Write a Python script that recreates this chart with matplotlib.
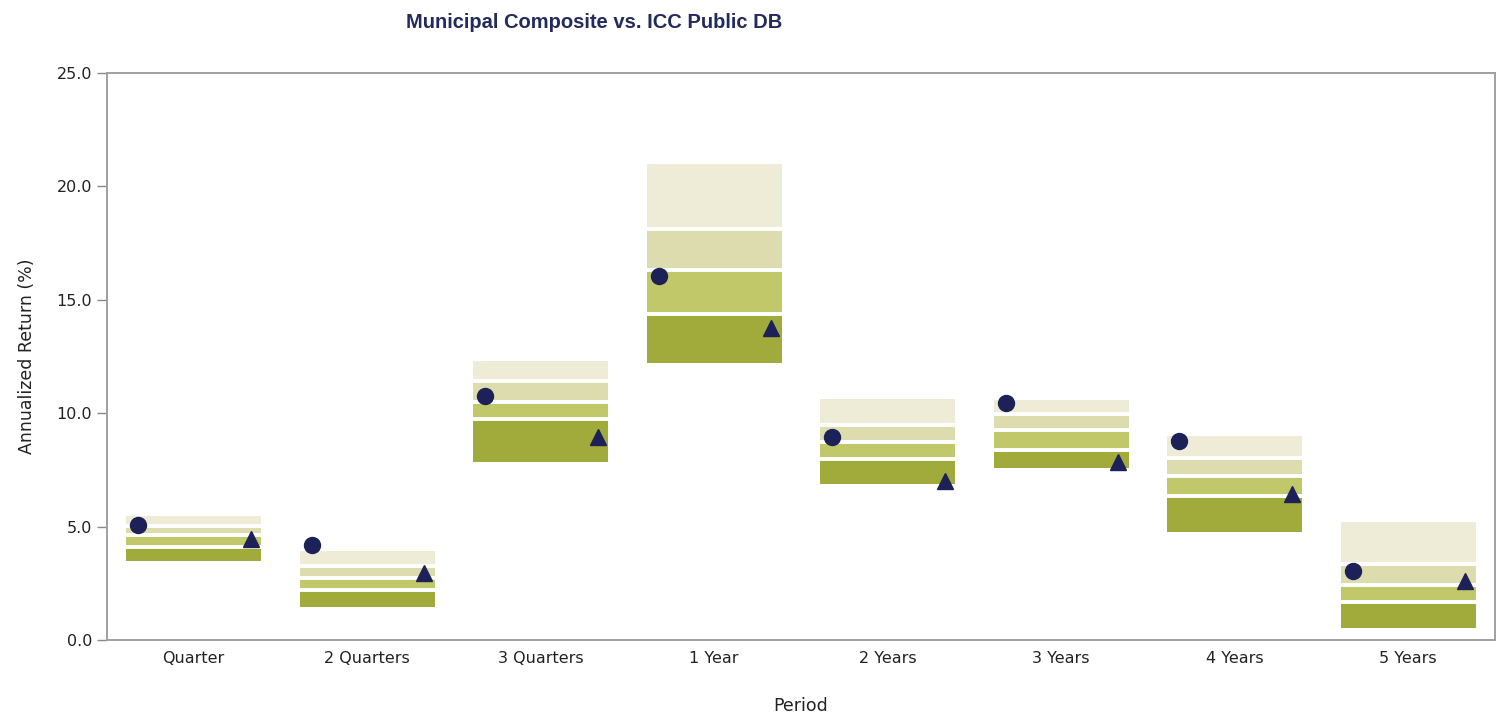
import matplotlib.pyplot as plt
from matplotlib import font_manager
import numpy as np

periods = ['Quarter', '2 Quarters', '3 Quarters', '1 Year',
           '2 Years', '3 Years', '4 Years', '5 Years']

# universe percentiles (5th, 25th, median, 75th, 95th)
p95 = [5.47, 3.92, 12.30, 20.99, 10.63, 10.58, 8.99, 5.20]
p75 = [5.03, 3.26, 11.40, 18.14, 9.46, 9.96, 8.02, 3.35]
p50 = [4.63, 2.73, 10.49, 16.31, 8.73, 9.26, 7.23, 2.43]
p25 = [4.10, 2.20, 9.74, 14.37, 7.96, 8.38, 6.37, 1.68]
p05 = [3.48, 1.46, 7.85, 12.21, 6.88, 7.58, 4.76, 0.53]

composite = [5.07, 4.19, 10.76, 16.05, 8.95, 10.45, 8.77, 3.04]
benchmark = [4.45, 2.95, 8.95, 13.76, 7.01, 7.85, 6.44, 2.60]

band_colors = ['#a1ab3b', '#c1c86a', '#dcdcae', '#eeecd6']
navy = '#1c2157'

# narrow font for the title if one is around
names = {f.name for f in font_manager.fontManager.ttflist}
title_font = 'Liberation Sans'
for cand in ['Liberation Sans Narrow', 'DejaVu Sans Condensed']:
    if cand in names:
        title_font = cand
        break

fig = plt.figure(figsize=(15.04, 7.13), dpi=100)
ax = fig.add_axes([0.0711, 0.1024, 0.9229, 0.7952])

x = np.arange(len(periods))
w = 0.78
lows = [p05, p25, p50, p75]
highs = [p25, p50, p75, p95]
for lo, hi, c in zip(lows, highs, band_colors):
    ax.bar(x, np.array(hi) - np.array(lo), bottom=lo, width=w,
           color=c, linewidth=0, zorder=2)

# white separators between bands
for level in [p25, p50, p75]:
    ax.hlines(level, x - w / 2, x + w / 2, colors='white',
              linewidth=2.8, zorder=3)

ax.plot(x - 0.32, composite, 'o', color=navy, markersize=11.5, zorder=4)
ax.plot(x + 0.33, benchmark, '^', color=navy, markersize=11, zorder=4)

ax.set_xlim(-0.5, len(periods) - 0.5)
ax.set_ylim(0, 25)
ax.set_yticks(np.arange(0, 25.1, 5))
ax.set_yticklabels(['%.1f' % v for v in np.arange(0, 25.1, 5)])
ax.set_xticks(x)
ax.set_xticklabels(periods)
ax.tick_params(axis='x', length=0, pad=8, labelsize=11.5, colors='#222222')
ax.tick_params(axis='y', length=7, width=1, color='#888888',
               labelsize=11.5, labelcolor='#222222')
for s in ax.spines.values():
    s.set_color('#a0a0a0')
    s.set_linewidth(1.4)

ax.set_ylabel('Annualized Return (%)', fontsize=12.5, color='#222222',
              labelpad=15)
ax.set_xlabel('Period', fontsize=12.5, color='#222222', labelpad=22)

tsize = 15 if title_font != 'Liberation Sans' else 14.5
fig.text(0.395, 0.968, 'Municipal Composite vs. ICC Public DB',
         ha='center', va='center', fontsize=tsize, fontweight='bold',
         color='#232a5e', family=[title_font, 'DejaVu Sans'])

fig.savefig('out.png', dpi=100)
